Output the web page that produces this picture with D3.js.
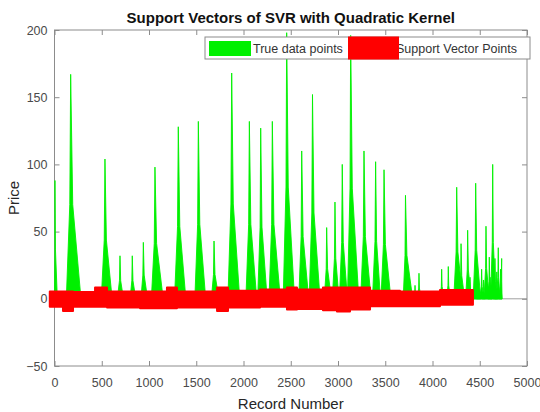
<!DOCTYPE html>
<html>
<head>
<meta charset="utf-8">
<script src="https://cdn.jsdelivr.net/npm/d3@7"></script>
<style>
  html, body { margin: 0; padding: 0; background: #ffffff; }
  svg { display: block; }
</style>
</head>
<body>
<div id="chart"></div>
<script>
// ---------------- data ----------------
const titleText = "Support Vectors of SVR with Quadratic Kernel";
const xLabelText = "Record Number";
const yLabelText = "Price";
const legendLabels = ["True data points", "Support Vector Points"];

const xTicks = [0, 500, 1000, 1500, 2000, 2500, 3000, 3500, 4000, 4500, 5000];
const yTicks = [-50, 0, 50, 100, 150, 200];

// True data: spikes (peak record, peak price, record where spike starts, record where it ends)
const spikePeak   = [5, 171, 534, 693, 823, 940, 1063, 1310, 1522, 1688, 1875, 2062, 2182, 2305, 2457, 2616, 2730, 2880, 2968, 3045, 3134, 3275, 3398, 3487, 3714, 3815, 3857, 4097, 4167, 4256, 4302, 4372, 4397, 4457, 4480, 4520, 4540, 4566, 4601, 4610, 4637, 4661, 4680, 4696, 4720, 4732, 4590];
const spikeHeight = [88, 167, 104, 32, 32, 42, 98, 128, 132, 43, 168, 132, 127, 132, 198, 110, 152, 53, 72, 100, 196, 110, 102, 96, 77, 10, 19, 22, 24, 83, 41, 51, 16, 86, 12, 22, 14, 54, 31, 16, 100, 30, 20, 38, 22, 30, 9];
const spikeStart  = [0, 125, 495, 665, 800, 915, 1025, 1270, 1485, 1660, 1835, 2025, 2150, 2270, 2420, 2585, 2695, 2855, 2940, 3015, 3100, 3240, 3365, 3455, 3690, 3800, 3840, 4080, 4150, 4225, 4285, 4350, 4385, 4430, 4465, 4500, 4525, 4545, 4585, 4595, 4615, 4645, 4660, 4675, 4705, 4712, 4430];
const spikeEnd    = [30, 280, 610, 730, 860, 985, 1150, 1390, 1600, 1740, 1960, 2140, 2250, 2390, 2540, 2690, 2810, 2930, 3010, 3100, 3220, 3350, 3450, 3560, 3790, 3835, 3880, 4120, 4190, 4320, 4340, 4410, 4420, 4510, 4500, 4545, 4560, 4600, 4625, 4630, 4670, 4685, 4700, 4715, 4736, 4736, 4736];

// Support vector points: band of points around zero (segment start record, upper, lower)
const bandStart = [-50, 90, 196, 429, 556, 905, 1190, 1296, 1720, 1836, 2175, 2460, 2566, 2841, 2989, 3127, 3339, 3656, 4079];
const bandEndRecord = 4428;
const bandUpper = [5.5, 5.5, 5, 8.5, 5.5, 5.5, 8.5, 5.5, 8.5, 6, 7, 8.5, 7, 8.5, 8.5, 8.5, 6, 5.5, 6.5];
const bandLower = [-6, -9, -6, -6, -6.5, -7, -7, -6.5, -9, -6.5, -6, -8, -7.5, -8.5, -9.5, -8, -5.5, -5.5, -4.5];

// ---------------- drawing ----------------
const W = 540, H = 412;
const margin = { left: 54.5, right: 13, top: 30, bottom: 46 };
const FONT = "'Liberation Sans', Arial, Helvetica, sans-serif";
const GREEN = "#00f000", RED = "#ff0000", AXIS = "#8c8c8c", TEXT = "#4a4a4a";

const svg = d3.select("#chart").append("svg").attr("width", W).attr("height", H);

const x = d3.scaleLinear().domain([0, 5000]).range([margin.left, W - margin.right]);
const y = d3.scaleLinear().domain([-50, 200]).range([H - margin.bottom, margin.top]);

// zero reference line
svg.append("line")
  .attr("x1", x(0)).attr("x2", x(5000))
  .attr("y1", y(0)).attr("y2", y(0))
  .attr("stroke", "#a0a0a0").attr("stroke-width", 1);

// axes
function styleAxis(g) {
  g.select(".domain").remove();
  g.selectAll(".tick line").attr("stroke", AXIS);
  g.selectAll(".tick text").attr("fill", TEXT).attr("font-family", FONT).attr("font-size", 12.5);
}
svg.append("g").attr("transform", `translate(0,${y(-50)})`)
  .call(d3.axisBottom(x).tickValues(xTicks).tickSize(-5).tickPadding(12).tickFormat(d3.format("d")))
  .call(styleAxis);
svg.append("g").attr("transform", `translate(0,${y(200)})`)
  .call(d3.axisTop(x).tickValues(xTicks).tickSize(-5).tickFormat(""))
  .call(styleAxis);
svg.append("g").attr("transform", `translate(${x(0)},0)`)
  .call(d3.axisLeft(y).tickValues(yTicks).tickSize(-5).tickPadding(7).tickFormat(d3.format("d")))
  .call(styleAxis);
svg.append("g").attr("transform", `translate(${x(5000)},0)`)
  .call(d3.axisRight(y).tickValues(yTicks).tickSize(-5).tickFormat(""))
  .call(styleAxis);

svg.append("rect")
  .attr("x", x(0)).attr("y", y(200))
  .attr("width", x(5000) - x(0)).attr("height", y(-50) - y(200))
  .attr("fill", "none").attr("stroke", AXIS).attr("stroke-width", 1);

// green spikes
const spikes = spikePeak.map((p, i) => ({ p, h: spikeHeight[i], s: spikeStart[i], e: spikeEnd[i] }));
svg.append("g").selectAll("path").data(spikes).join("path")
  .attr("d", d => {
    const xs = x(d.s), xe = x(d.e), xp = x(d.p);
    const y0 = y(0), yp = y(d.h), yk = y(d.h * 0.42);
    const xkL = xp - (xp - xs) * 0.2, xkR = xp + (xe - xp) * 0.2;
    return `M${xs},${y0}L${xkL},${yk}L${xp},${yp}L${xkR},${yk}L${xe},${y0}Z`;
  })
  .attr("fill", GREEN).attr("stroke", GREEN).attr("stroke-width", 0.9).attr("stroke-linejoin", "miter");

// red support vector band
const bandPts = bandStart.map((r, i) => ({ r, hi: bandUpper[i], lo: bandLower[i] }));
bandPts.push({ r: bandEndRecord, hi: bandUpper[bandUpper.length - 1], lo: bandLower[bandLower.length - 1] });
const area = d3.area().x(d => x(d.r)).y0(d => y(d.lo)).y1(d => y(d.hi)).curve(d3.curveStepAfter);
svg.append("path").datum(bandPts)
  .attr("d", area)
  .attr("fill", RED).attr("stroke", RED).attr("stroke-width", 2).attr("stroke-linejoin", "round");

// title and labels
svg.append("text")
  .attr("x", (x(0) + x(5000)) / 2).attr("y", 23)
  .attr("text-anchor", "middle").attr("font-family", FONT).attr("font-weight", "bold")
  .attr("font-size", 15).attr("fill", "#111")
  .text(titleText);
svg.append("text")
  .attr("x", (x(0) + x(5000)) / 2).attr("y", 409)
  .attr("text-anchor", "middle").attr("font-family", FONT)
  .attr("font-size", 15).attr("fill", "#262626")
  .text(xLabelText);
svg.append("text")
  .attr("transform", `translate(19,${(y(-50) + y(200)) / 2}) rotate(-90)`)
  .attr("text-anchor", "middle").attr("font-family", FONT)
  .attr("font-size", 15).attr("fill", "#262626")
  .text(yLabelText);

// legend
const lg = svg.append("g");
lg.append("rect").attr("x", 205).attr("y", 37).attr("width", 325).attr("height", 22)
  .attr("fill", "#fff").attr("stroke", AXIS).attr("stroke-width", 1);
lg.append("rect").attr("x", 209).attr("y", 41).attr("width", 42).attr("height", 15).attr("fill", GREEN);
lg.append("text").attr("x", 253).attr("y", 52.5).attr("font-family", FONT).attr("font-size", 12.5)
  .attr("fill", "#333").text(legendLabels[0]);
lg.append("text").attr("x", 396).attr("y", 52.5).attr("font-family", FONT).attr("font-size", 12.5)
  .attr("fill", "#333").text(legendLabels[1]);
lg.append("rect").attr("x", 348).attr("y", 36.5).attr("width", 51).attr("height", 23).attr("fill", RED);
</script>
</body>
</html>
